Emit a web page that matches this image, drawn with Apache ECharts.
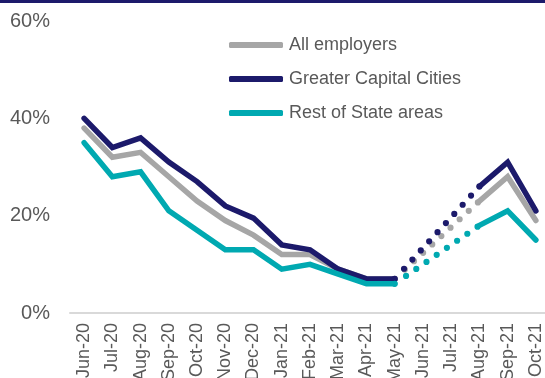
<!DOCTYPE html>
<html>
<head>
<meta charset="utf-8">
<script src="https://cdn.jsdelivr.net/npm/echarts@6/dist/echarts.min.js"></script>
<style>
  html, body { margin: 0; padding: 0; background: #fff; }
  #chart { width: 545px; height: 378px; }
</style>
</head>
<body>
<div id="chart"></div>
<script>
// Months on the category axis
const months = ['Jun-20', 'Jul-20', 'Aug-20', 'Sep-20', 'Oct-20', 'Nov-20', 'Dec-20',
  'Jan-21', 'Feb-21', 'Mar-21', 'Apr-21', 'May-21', 'Jun-21', 'Jul-21',
  'Aug-21', 'Sep-21', 'Oct-21'];

// Share of employers (%), no survey in Jun-21 and Jul-21
const allEmployers  = [38, 32, 33, 28, 23, 19, 16, 12, 12, 9, 7, 7, null, null, 23, 28, 19];
const capitalCities = [40, 34, 36, 31, 27, 22, 19.5, 14, 13, 9, 7, 7, null, null, 26, 31, 21];
const restOfState   = [35, 28, 29, 21, 17, 13, 13, 9, 10, 8, 6, 6, null, null, 18, 21, 15];

const yTicks = [0, 20, 40, 60];

const seriesDefs = [
  { name: 'All employers', values: allEmployers, color: '#a6a6a6' },
  { name: 'Greater Capital Cities', values: capitalCities, color: '#1c1a6b' },
  { name: 'Rest of State areas', values: restOfState, color: '#00a9b1' }
];

// Dotted bridge across the months without data: only the two points either side of the gap
function bridge(values) {
  const out = values.map(() => null);
  const firstGap = values.indexOf(null);
  let lastGap = firstGap;
  while (values[lastGap + 1] === null) lastGap++;
  out[firstGap - 1] = values[firstGap - 1];
  out[lastGap + 1] = values[lastGap + 1];
  return out;
}

const LINE_W = 5.5;
const series = [];
seriesDefs.forEach(d => {
  series.push({
    name: d.name,
    type: 'line',
    data: d.values,
    showSymbol: false,
    symbol: 'none',
    connectNulls: false,
    silent: true,
    lineStyle: { color: d.color, width: LINE_W, cap: 'round', join: 'miter' },
    itemStyle: { color: d.color },
    z: 2
  });
  series.push({
    name: d.name + ' (gap)',
    type: 'line',
    data: bridge(d.values),
    showSymbol: false,
    symbol: 'none',
    connectNulls: true,
    silent: true,
    lineStyle: {
      color: d.color, width: 6.2, cap: 'round',
      type: [0, 13.8, 0, 12.4, 0, 12.4, 0, 12.4, 0, 12.4, 0, 12.4, 0, 12.4, 0, 12.4, 0, 12.4, 0, 12.4, 0, 12.4, 0, 400]
    },
    itemStyle: { color: d.color },
    z: 2
  });
});

const chart = echarts.init(document.getElementById('chart'), null, { renderer: 'canvas' });
chart.setOption({
  animation: false,
  backgroundColor: '#ffffff',
  textStyle: { fontFamily: 'Liberation Sans, Arial, sans-serif' },
  graphic: [{
    type: 'rect',
    left: 0, top: 0,
    shape: { width: 545, height: 3 },
    style: { fill: '#1c1a6b' }
  }],
  grid: { left: 70, right: -5, top: 21, bottom: 65, containLabel: false, outerBoundsMode: 'none' },
  legend: {
    orient: 'vertical',
    left: 224,
    top: 31,
    itemWidth: 54,
    itemHeight: 6,
    itemGap: 16,
    icon: 'roundRect',
    data: seriesDefs.map(d => d.name),
    textStyle: { fontSize: 18, color: '#595959', padding: [0, 0, 0, 1] },
    selectedMode: false
  },
  xAxis: {
    type: 'category',
    data: months,
    boundaryGap: true,
    axisLine: { show: true, lineStyle: { color: '#d9d9d9', width: 2 } },
    axisTick: { show: false },
    axisLabel: {
      rotate: 90, interval: 0, margin: 10,
      fontSize: 18, color: '#595959'
    }
  },
  yAxis: {
    type: 'value',
    min: yTicks[0],
    max: yTicks[yTicks.length - 1],
    interval: yTicks[1] - yTicks[0],
    axisLine: { show: false },
    axisTick: { show: false },
    splitLine: { show: false },
    axisLabel: {
      formatter: v => v + '%',
      fontSize: 20, color: '#595959', margin: 20
    }
  },
  series: series
});
</script>
</body>
</html>
